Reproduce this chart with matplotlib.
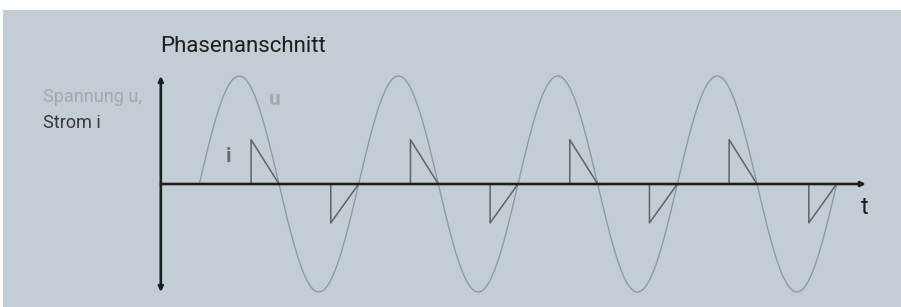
import numpy as np
import matplotlib.pyplot as plt
from matplotlib.patches import Rectangle

# phase angle in degrees, voltage amplitude normalised to 1
periods = 4
firing_angle = 117          # Zuendwinkel
i_peak_pos = 0.41
i_peak_neg = -0.36
t_axis_start = -87
t_axis_end = 1506

phi = np.linspace(0, 360 * periods, 2000)
u = np.sin(np.radians(phi))

fig = plt.figure(figsize=(9.01, 3.07), dpi=100)
fig.patch.set_facecolor('white')

ax = fig.add_axes([0, 0, 1, 1])
ax.set_facecolor('none')
# pixel scale: 1 deg = 0.4426 px, amplitude 1 = 108 px
ax.set_xlim(-450.3, 1585.3)
ax.set_ylim(-1.139, 1.704)
ax.axis('off')
ax.add_patch(Rectangle((3 / 901, 0), 1, 1 - 10 / 307, transform=ax.transAxes,
                       facecolor='#c2ced3', edgecolor='none', zorder=0))

ax.plot(phi, u, color='#8c9ca3', lw=1.0, zorder=2)

# current pulses: jump at firing angle, falling to zero at next zero crossing
for k in range(2 * periods):
    start = 180 * k + firing_angle
    end = 180 * (k + 1)
    h = i_peak_pos if k % 2 == 0 else i_peak_neg
    ax.plot([start, start, end], [0, h, 0], color='#626262', lw=1.1, zorder=3)

ax.annotate('', xy=(t_axis_start, 1.0), xytext=(t_axis_start, -1.0),
            arrowprops=dict(arrowstyle='<|-|>', lw=1.9, color='#1e1e1e',
                            mutation_scale=7, shrinkA=0, shrinkB=0), zorder=4)
ax.annotate('', xy=(t_axis_end, 0), xytext=(t_axis_start, 0),
            arrowprops=dict(arrowstyle='-|>', lw=1.9, color='#1e1e1e',
                            mutation_scale=7, shrinkA=0, shrinkB=0), zorder=4)

fam = ['Roboto', 'DejaVu Sans']
ax.text(t_axis_start - 2, 1.22, 'Phasenanschnitt', fontsize=16, color='#1e1e1e',
        family=fam, va='baseline', ha='left')
ax.text(-353, 0.762, 'Spannung u,', fontsize=13, color='#a1a9ac',
        family=fam, va='baseline', ha='left')
ax.text(-353, 0.521, 'Strom i', fontsize=13, color='#383838',
        family=fam, va='baseline', ha='left')
ax.text(158, 0.731, 'u', fontsize=15, color='#a1a9ac', family=fam,
        fontweight='bold', va='baseline', ha='left')
ax.text(61, 0.206, 'i', fontsize=15, color='#6a6a6a', family=fam,
        fontweight='bold', va='baseline', ha='left')
ax.text(1495, -0.28, 't', fontsize=17, color='#1e1e1e', family=fam,
        va='baseline', ha='left')

fig.savefig('out.png', dpi=100)
